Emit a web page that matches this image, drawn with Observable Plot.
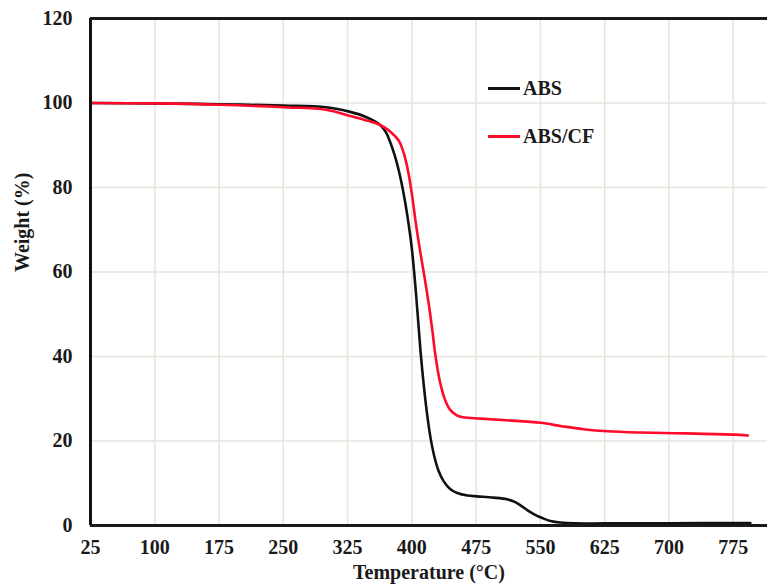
<!DOCTYPE html>
<html>
<head>
<meta charset="utf-8">
<script src="https://cdn.jsdelivr.net/npm/d3@7"></script>
<script src="https://cdn.jsdelivr.net/npm/@observablehq/plot@0.6"></script>
<style>
  html, body { margin: 0; padding: 0; background: #fff; }
  #wrap { position: relative; width: 767px; height: 586px; }
  #legend { position: absolute; left: 488px; top: 76px; font-family: "Liberation Serif", "Times New Roman", serif; font-weight: bold; font-size: 20px; color: #1a1a1a; }
  #legend .row { display: flex; align-items: center; height: 24px; margin-bottom: 24px; }
  #legend .sw { width: 32px; height: 3px; margin-right: 3px; }
</style>
</head>
<body>
<div id="wrap">
  <div id="chart"></div>
  <div id="legend"></div>
</div>
<script>
const seriesNames = ["ABS", "ABS/CF"];
const seriesColors = ["#111111", "#ff0a2a"];

const absTemp = [25, 100, 175, 250, 300, 328, 345, 363, 370, 375, 380, 385, 390, 395, 400, 405, 410, 414, 418, 422, 426, 431, 437, 445, 453, 465, 476, 495, 511, 520, 528, 535, 545, 553, 563, 573, 590, 625, 700, 795];
const absWeight = [100, 99.9, 99.7, 99.4, 99.0, 97.9, 96.8, 94.8, 93.0, 90.6, 87.6, 83.8, 79.0, 73.0, 65.5, 54.5, 41.5, 33.0, 26.0, 20.5, 16.5, 13.0, 10.5, 8.6, 7.7, 7.1, 6.9, 6.6, 6.2, 5.6, 4.6, 3.6, 2.4, 1.7, 1.0, 0.7, 0.5, 0.5, 0.55, 0.6];

const cfTemp = [25, 100, 175, 250, 300, 328, 345, 363, 375, 385, 390, 395, 400, 405, 410, 415, 420, 424, 427, 430, 433, 439, 445, 453, 460, 480, 510, 550, 575, 600, 628, 667, 720, 777, 792];
const cfWeight = [100, 99.9, 99.6, 99.0, 98.4, 96.9, 96.0, 94.8, 93.2, 91.0, 88.5, 84.5, 78.5, 71.0, 64.5, 58.5, 52.0, 46.0, 41.0, 37.0, 33.8, 29.6, 27.3, 26.0, 25.6, 25.3, 24.9, 24.3, 23.5, 22.8, 22.3, 22.0, 21.8, 21.5, 21.3];

const xTicks = [25, 100, 175, 250, 325, 400, 475, 550, 625, 700, 775];
const yTicks = [0, 20, 40, 60, 80, 100, 120];
const xTitle = "Temperature (°C)";
const yTitle = "Weight (%)";

const data = [
  ...absTemp.map((t, i) => ({series: seriesNames[0], t, w: absWeight[i]})),
  ...cfTemp.map((t, i) => ({series: seriesNames[1], t, w: cfWeight[i]}))
];

const font = '"Liberation Serif", "Times New Roman", serif';

const chart = Plot.plot({
  width: 767,
  height: 586,
  marginLeft: 90,
  marginRight: 0,
  marginTop: 18,
  marginBottom: 61,
  style: {fontFamily: font, fontWeight: "bold", fontSize: "20px", color: "#1a1a1a", background: "#fff", overflow: "visible"},
  x: {domain: [25, 815], ticks: xTicks, tickSize: 0, tickPadding: 14, label: null},
  y: {domain: [0, 120], ticks: yTicks, tickSize: 0, tickPadding: 18, label: null},
  color: {domain: seriesNames, range: seriesColors},
  marks: [
    Plot.gridX(xTicks.slice(1), {stroke: "#e7e4dc", strokeOpacity: 1, strokeWidth: 1.5}),
    Plot.gridY(yTicks.slice(1, -1), {stroke: "#e7e4dc", strokeOpacity: 1, strokeWidth: 1.5}),
    Plot.line(data, {x: "t", y: "w", z: "series", stroke: "series", strokeWidth: 2.6, curve: "catmull-rom"}),
    Plot.ruleX([25], {stroke: "#111", strokeWidth: 3}),
    Plot.ruleY([0, 120], {stroke: "#1a1a1a", strokeWidth: 3}),
    Plot.text([xTitle], {frameAnchor: "bottom", dy: 53, fontSize: 20, fontWeight: "bold", fill: "#1a1a1a"}),
    Plot.text([yTitle], {frameAnchor: "left", dx: -68, rotate: -90, fontSize: 20, fontWeight: "bold", fill: "#1a1a1a"})
  ]
});
document.getElementById("chart").appendChild(chart);

const legend = document.getElementById("legend");
seriesNames.forEach((name, i) => {
  const row = document.createElement("div");
  row.className = "row";
  const sw = document.createElement("div");
  sw.className = "sw";
  sw.style.background = seriesColors[i];
  const label = document.createElement("span");
  label.textContent = name;
  row.appendChild(sw);
  row.appendChild(label);
  legend.appendChild(row);
});
</script>
</body>
</html>
